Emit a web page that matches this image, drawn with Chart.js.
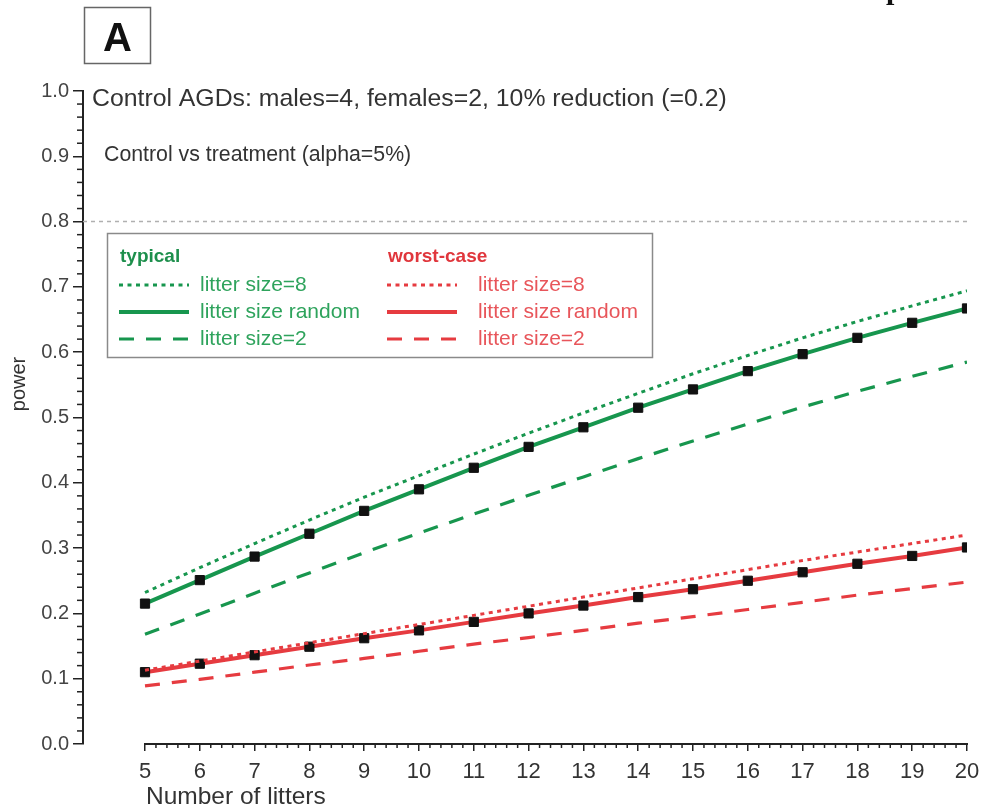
<!DOCTYPE html>
<html>
<head>
<meta charset="utf-8">
<script src="https://cdn.jsdelivr.net/npm/chart.js@4/dist/chart.umd.min.js"></script>
<style>
  html, body { margin: 0; padding: 0; background: #fff; }
  #wrap { position: relative; width: 984px; height: 811px; }
</style>
</head>
<body>
<div id="wrap"><canvas id="c" width="984" height="811"></canvas></div>
<script>
// ---- data ----
const litters = [5, 6, 7, 8, 9, 10, 11, 12, 13, 14, 15, 16, 17, 18, 19, 20];
const typical8      = [0.232, 0.270, 0.307, 0.343, 0.378, 0.411, 0.444, 0.476, 0.507, 0.537, 0.567, 0.595, 0.622, 0.647, 0.671, 0.694];
const typicalRandom = [0.215, 0.251, 0.287, 0.322, 0.357, 0.390, 0.423, 0.455, 0.485, 0.515, 0.543, 0.571, 0.597, 0.622, 0.645, 0.667];
const typical2      = [0.168, 0.199, 0.231, 0.262, 0.293, 0.323, 0.352, 0.381, 0.409, 0.437, 0.464, 0.490, 0.516, 0.540, 0.563, 0.585];
const worst8        = [0.113, 0.127, 0.141, 0.155, 0.169, 0.183, 0.197, 0.211, 0.225, 0.239, 0.253, 0.267, 0.281, 0.294, 0.307, 0.320];
const worstRandom   = [0.110, 0.123, 0.136, 0.149, 0.162, 0.174, 0.187, 0.200, 0.212, 0.225, 0.237, 0.250, 0.263, 0.276, 0.288, 0.301];
const worst2        = [0.089, 0.099, 0.110, 0.121, 0.131, 0.142, 0.153, 0.163, 0.174, 0.185, 0.195, 0.206, 0.217, 0.228, 0.238, 0.248];
const powerTarget = 0.8;
const xTicks = [5, 6, 7, 8, 9, 10, 11, 12, 13, 14, 15, 16, 17, 18, 19, 20];
const yTicks = [0.0, 0.1, 0.2, 0.3, 0.4, 0.5, 0.6, 0.7, 0.8, 0.9, 1.0];
const legendLabels = ['litter size=8', 'litter size random', 'litter size=2'];
const groupNames = ['typical', 'worst-case'];
const panelLabel = 'A';
const titleText = 'Control AGDs: males=4, females=2, 10% reduction (=0.2)';
const subtitleText = 'Control vs treatment (alpha=5%)';
const xTitle = 'Number of litters';
const yTitle = 'power';

const GREEN = '#17964e';
const RED = '#e63b40';
const FONT = "'Liberation Sans', Arial, sans-serif";
const X_MIN = 3.8686;   // axis origin left of first category (y-axis sits apart from x-axis)

const pts = (arr) => litters.map((x, i) => ({ x, y: arr[i] }));

const datasets = [
  { label: 'target', data: [{ x: X_MIN, y: powerTarget }, { x: 20, y: powerTarget }],
    borderColor: '#b0b0b0', borderWidth: 1.5, borderDash: [4, 4], pointRadius: 0, group: null },
  { label: 'typical ' + legendLabels[0], data: pts(typical8), borderColor: GREEN, borderWidth: 3, borderDash: [4, 4.5], pointRadius: 0, group: 0, row: 0 },
  { label: 'typical ' + legendLabels[2], data: pts(typical2), borderColor: GREEN, borderWidth: 3.2, borderDash: [15, 12], pointRadius: 0, group: 0, row: 2 },
  { label: 'worst ' + legendLabels[0], data: pts(worst8), borderColor: RED, borderWidth: 3, borderDash: [4, 4.5], pointRadius: 0, group: 1, row: 0 },
  { label: 'worst ' + legendLabels[2], data: pts(worst2), borderColor: RED, borderWidth: 3.2, borderDash: [15, 12], pointRadius: 0, group: 1, row: 2 },
  { label: 'typical ' + legendLabels[1], data: pts(typicalRandom), borderColor: GREEN, borderWidth: 4, pointRadius: 6.5, pointStyle: 'rect',
    pointBackgroundColor: '#111', pointBorderColor: '#111', pointBorderWidth: 1, group: 0, row: 1 },
  { label: 'worst ' + legendLabels[1], data: pts(worstRandom), borderColor: RED, borderWidth: 4, pointRadius: 6.5, pointStyle: 'rect',
    pointBackgroundColor: '#111', pointBorderColor: '#111', pointBorderWidth: 1, group: 1, row: 1 },
];

const decor = {
  id: 'decor',
  afterDraw(chart) {
    const ctx = chart.ctx;
    const xs = chart.scales.x, ys = chart.scales.y;
    ctx.save();
    // x-axis baseline from first to last category
    const yb = xs.top;
    ctx.strokeStyle = '#222';
    ctx.lineWidth = 2;
    ctx.beginPath();
    ctx.moveTo(xs.getPixelForValue(xTicks[0]) - 1, yb);
    ctx.lineTo(xs.getPixelForValue(xTicks[xTicks.length - 1]) + 1, yb);
    ctx.stroke();
    // x minor ticks
    ctx.lineWidth = 1.5;
    for (let i = 0; i < xTicks.length - 1; i++) {
      for (let k = 1; k < 5; k++) {
        const px = xs.getPixelForValue(xTicks[i] + k * 0.2);
        ctx.beginPath(); ctx.moveTo(px, yb); ctx.lineTo(px, yb + 4); ctx.stroke();
      }
    }
    // y minor ticks
    const xa = ys.right;
    for (let i = 0; i < yTicks.length - 1; i++) {
      for (let k = 1; k < 5; k++) {
        const py = ys.getPixelForValue(yTicks[i] + k * 0.02);
        ctx.beginPath(); ctx.moveTo(xa, py); ctx.lineTo(xa - 6, py); ctx.stroke();
      }
    }
    // axis titles
    ctx.fillStyle = '#333';
    ctx.font = '24.5px ' + FONT;
    ctx.textAlign = 'left';
    ctx.textBaseline = 'alphabetic';
    ctx.fillText(xTitle, xs.getPixelForValue(xTicks[0]) + 1, 804);
    ctx.save();
    ctx.translate(25, 384);
    ctx.rotate(-Math.PI / 2);
    ctx.textAlign = 'center';
    ctx.font = '20px ' + FONT;
    ctx.fillText(yTitle, 0, 0);
    ctx.restore();

    // titles
    ctx.fillStyle = '#333';
    ctx.font = '24.8px ' + FONT;
    ctx.fillText(titleText, 92, 106);
    ctx.font = '21.3px ' + FONT;
    ctx.fillText(subtitleText, 104, 161);

    // panel label box
    ctx.strokeStyle = '#666';
    ctx.lineWidth = 1.5;
    ctx.strokeRect(84.5, 7.5, 66, 56);
    ctx.fillStyle = '#111';
    ctx.font = 'bold 40px ' + FONT;
    ctx.textAlign = 'center';
    ctx.fillText(panelLabel, 117.5, 51);

    // cropped fragment of text at top right edge
    ctx.font = 'bold 30px "Liberation Serif", serif';
    ctx.textAlign = 'left';
    ctx.fillText('p', 886, -1);

    // legend box
    ctx.strokeStyle = '#8a8a8a';
    ctx.lineWidth = 1.5;
    ctx.fillStyle = '#fff';
    ctx.fillRect(107, 233, 546, 125);
    ctx.strokeRect(107.5, 233.5, 545, 124);
    const cols = [{ x0: 119, textX: 200, head: '#1d8f4c', txt: '#2ea35c' },
                  { x0: 387, textX: 478, head: '#e0363c', txt: '#e8555a' }];
    const rowY = [285, 312, 339];
    ctx.textBaseline = 'middle';
    cols.forEach((c, g) => {
      ctx.font = 'bold 19px ' + FONT;
      ctx.fillStyle = c.head;
      ctx.textAlign = 'left';
      ctx.fillText(groupNames[g], c.x0 + 1, 257);
      chart.data.datasets.forEach((ds) => {
        if (ds.group !== g) return;
        const y = rowY[ds.row];
        ctx.save();
        ctx.strokeStyle = ds.borderColor;
        ctx.lineWidth = ds.borderWidth;
        ctx.setLineDash(ds.borderDash || []);
        ctx.beginPath();
        ctx.moveTo(c.x0, y); ctx.lineTo(c.x0 + 70, y);
        ctx.stroke();
        ctx.restore();
        ctx.font = '21px ' + FONT;
        ctx.fillStyle = c.txt;
        ctx.fillText(legendLabels[ds.row], c.textX, y);
      });
    });
    ctx.restore();
  }
};

new Chart(document.getElementById('c'), {
  type: 'line',
  data: { datasets },
  options: {
    responsive: false,
    animation: false,
    layout: { padding: { left: 0, right: 17, top: 91, bottom: 0 } },
    plugins: { legend: { display: false }, tooltip: { enabled: false } },
    elements: { line: { tension: 0, fill: false } },
    scales: {
      x: {
        type: 'linear', min: X_MIN, max: 20,
        afterBuildTicks: (s) => { s.ticks = xTicks.map(v => ({ value: v })); },
        afterFit: (s) => { s.height = 67; s.paddingLeft = 0; s.paddingRight = 0; },
        border: { display: false },
        grid: { drawOnChartArea: false, drawTicks: true, tickLength: 7, color: '#222', lineWidth: 1.5 },
        ticks: { color: '#333', font: { family: FONT, size: 22 }, padding: 8, maxRotation: 0, autoSkip: false,
                 callback: (v) => String(v) }
      },
      y: {
        type: 'linear', min: 0, max: 1,
        afterBuildTicks: (s) => { s.ticks = yTicks.map(v => ({ value: v })); },
        afterFit: (s) => { s.width = 83; s.paddingTop = 0; s.paddingBottom = 0; },
        border: { display: true, color: '#222', width: 2 },
        grid: { drawOnChartArea: false, drawTicks: true, tickLength: 10, color: '#222', lineWidth: 1.5 },
        ticks: { color: '#444', font: { family: FONT, size: 20 }, padding: 4,
                 callback: (v) => Number(v).toFixed(1) }
      }
    }
  },
  plugins: [decor]
});
</script>
</body>
</html>
